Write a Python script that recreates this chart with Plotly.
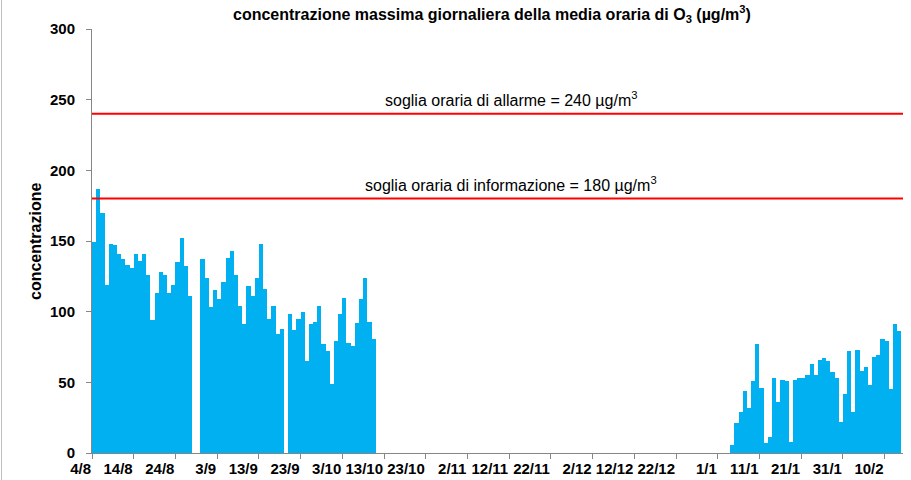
import plotly.graph_objects as go
import pandas as pd

# ---------------- data ----------------
summer_start = "2006-08-04"
summer_values = [149, 187, 170, 119, 148, 147, 141, 137, 133, 131,
                 141, 136, 141, 126, 94, 113, 128, 126, 113, 119,
                 135, 152, 132, 111, None, None, 137, 124, 103, 115,
                 109, 121, 138, 143, 126, 104, 91, 118, 111, 124,
                 148, 116, 95, 104, 84, 88, None, 98, 87, 95,
                 100, 65, 91, 93, 104, 77, 72, 49, 79, 98,
                 110, 78, 76, 92, 109, 124, 93, 81]

winter_start = "2007-01-04"
winter_values = [6, 21, 29, 44, 32, 51, 77, 46, 7, 11,
                 53, 36, 52, 51, 8, 52, 53, 53, 55, 63,
                 55, 66, 67, 65, 57, 53, 22, 42, 72, 29,
                 73, 58, 61, 48, 68, 69, 81, 79, 45, 91, 86]

tick_labels = ["4/8", "14/8", "24/8", "3/9", "13/9", "23/9", "3/10", "13/10",
               "23/10", "2/11", "12/11", "22/11", "2/12", "12/12", "22/12",
               "1/1", "11/1", "21/1", "31/1", "10/2"]

thresholds = [240, 180]
threshold_texts = ["soglia oraria di allarme = 240 µg/m<sup>3</sup>",
                   "soglia oraria di informazione = 180 µg/m<sup>3</sup>"]

title_text = "concentrazione massima giornaliera della media oraria di O<sub>3</sub> (µg/m<sup>3</sup>)"
y_title = "concentrazione"

# ---------------- figure ----------------
BAR_COLOR = "#00B0F0"
AXIS_COLOR = "#868686"
FONT = "Liberation Sans, Arial, sans-serif"
DAY_MS = 86400000

half_day = pd.Timedelta(hours=12)
x_summer = pd.date_range(summer_start, periods=len(summer_values), freq="D") + half_day
x_winter = pd.date_range(winter_start, periods=len(winter_values), freq="D") + half_day
tick_dates = pd.date_range(summer_start, periods=len(tick_labels), freq="10D")

fig = go.Figure()
for xs, ys in [(x_summer, summer_values), (x_winter, winter_values)]:
    fig.add_trace(go.Bar(x=xs, y=ys, width=DAY_MS,
                         marker=dict(color=BAR_COLOR, line=dict(width=0)),
                         showlegend=False, hoverinfo="x+y"))

for thr, txt in zip(thresholds, threshold_texts):
    fig.add_hline(y=thr, line=dict(color="#FF0000", width=2), layer="above")
    fig.add_annotation(xref="paper", x=0.517, xanchor="center",
                       yref="y", y=thr + 10.5,
                       text=txt, showarrow=False,
                       font=dict(family=FONT, size=16, color="black"))

x0 = pd.Timestamp(summer_start)
x1 = x0 + pd.Timedelta(days=194.4)

fig.update_layout(
    width=911, height=480,
    margin=dict(l=92, r=8, t=29, b=27, autoexpand=False),
    paper_bgcolor="white", plot_bgcolor="white",
    bargap=0, barmode="overlay",
    font=dict(family=FONT, color="black"),
    title=dict(text=title_text, xref="container", x=0.54, xanchor="center",
               yref="container", y=0.971, yanchor="middle", automargin=False,
               font=dict(family=FONT, size=16, color="black", weight="bold")),
    xaxis=dict(type="date", range=[x0, x1], automargin=False,
               tickmode="array", tickvals=tick_dates, ticktext=tick_labels,
               ticklabelposition="outside left", tickangle=0,
               ticklabelstandoff=2,
               ticks="outside", ticklen=5, tickcolor=AXIS_COLOR,
               showline=True, linecolor=AXIS_COLOR, linewidth=1,
               showgrid=False, zeroline=False,
               tickfont=dict(family=FONT, size=15, color="black", weight="bold")),
    yaxis=dict(range=[0, 300], tickmode="linear", tick0=0, dtick=50,
               automargin=False,
               ticks="outside", ticklen=5, tickcolor=AXIS_COLOR,
               ticklabelstandoff=8,
               showline=True, linecolor=AXIS_COLOR, linewidth=1,
               showgrid=False, zeroline=False,
               tickfont=dict(family=FONT, size=15, color="black", weight="bold")),
)

fig.add_annotation(xref="paper", x=-0.0703, xanchor="center",
                   yref="paper", y=0.5, yanchor="middle",
                   text=y_title, textangle=-90, showarrow=False,
                   font=dict(family=FONT, size=16, color="black", weight="bold"))

# outer chart border (left edge visible in the reference)
fig.add_shape(type="line", xref="paper", yref="paper",
              x0=(1.5 - 92) / 811, x1=(1.5 - 92) / 811, y0=-0.07, y1=1.07,
              line=dict(color="#BFBFBF", width=1))

fig.write_html("out.html", config={"displayModeBar": False},
               post_script="document.body.style.margin='0px';")
